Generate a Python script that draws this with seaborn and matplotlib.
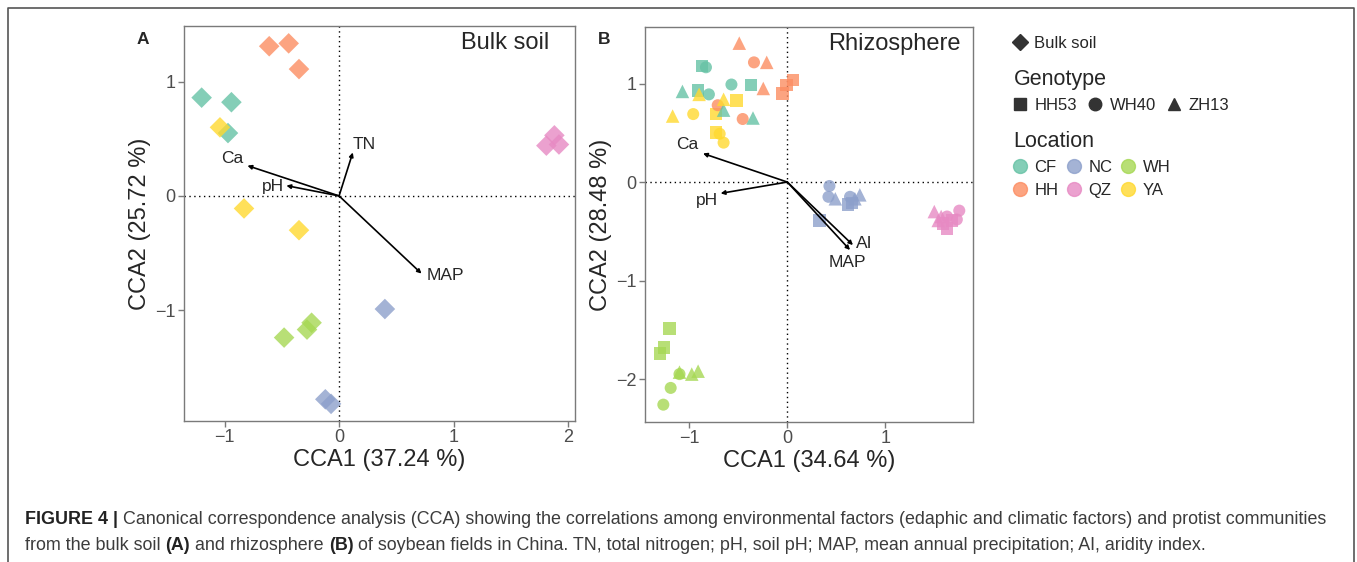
import matplotlib
matplotlib.use('Agg')
import matplotlib.pyplot as plt
from matplotlib.lines import Line2D
import seaborn as sns
import pandas as pd

# Locations and colours (Set2, ggplot order)
locations = ['CF', 'HH', 'NC', 'QZ', 'WH', 'YA']
loc_colors = ['#66C2A5', '#FC8D62', '#8DA0CB', '#E78AC3', '#A6D854', '#FFD92F']
genotypes = ['HH53', 'WH40', 'ZH13']
geno_markers = {'HH53': 's', 'WH40': 'o', 'ZH13': '^'}
geno_sizes = {'HH53': 80, 'WH40': 75, 'ZH13': 95}

# Panel A: bulk soil site scores
bulk_loc = ['HH'] * 3 + ['CF'] * 3 + ['YA'] * 3 + ['QZ'] * 3 + ['NC'] * 3 + ['WH'] * 3
bulk_x = [-0.61, -0.44, -0.35, -1.20, -0.94, -0.97, -1.04, -0.83, -0.35,
          1.88, 1.81, 1.92, 0.40, -0.12, -0.07, -0.24, -0.28, -0.48]
bulk_y = [1.31, 1.335, 1.11, 0.86, 0.82, 0.55, 0.60, -0.11, -0.30,
          0.53, 0.44, 0.45, -0.99, -1.78, -1.82, -1.11, -1.17, -1.24]

# Panel A: environmental arrows
bulk_env = ['Ca', 'pH', 'TN', 'MAP']
bulk_env_x = [-0.80, -0.46, 0.12, 0.72]
bulk_env_y = [0.265, 0.09, 0.38, -0.68]
bulk_lab_x = [-0.93, -0.58, 0.22, 0.93]
bulk_lab_y = [0.33, 0.08, 0.45, -0.70]

# Panel B: rhizosphere site scores (3 genotypes x 3 reps per location)
rhizo_loc = (['HH'] * 9 + ['CF'] * 9 + ['YA'] * 9 + ['NC'] * 9 + ['QZ'] * 9 + ['WH'] * 9)
rhizo_geno = (['HH53'] * 3 + ['WH40'] * 3 + ['ZH13'] * 3) * 6
rhizo_x = [0.06, -0.01, -0.05, -0.34, -0.71, -0.455, -0.49, -0.21, -0.245,
           -0.87, -0.37, -0.91, -0.83, -0.57, -0.80, -1.07, -0.65, -0.35,
           -0.52, -0.73, -0.73, -0.96, -0.69, -0.65, -0.90, -0.65, -1.17,
           0.33, 0.62, 0.66, 0.43, 0.42, 0.64, 0.49, 0.74, 0.69,
           1.63, 1.59, 1.68, 1.755, 1.73, 1.63, 1.50, 1.54, 1.57,
           -1.20, -1.26, -1.30, -1.10, -1.19, -1.265, -1.10, -0.975, -0.91]
rhizo_y = [1.035, 0.985, 0.90, 1.215, 0.78, 0.64, 1.41, 1.215, 0.95,
           1.18, 0.985, 0.93, 1.165, 0.99, 0.89, 0.92, 0.73, 0.65,
           0.83, 0.69, 0.505, 0.69, 0.49, 0.40, 0.89, 0.84, 0.67,
           -0.39, -0.23, -0.21, -0.04, -0.15, -0.15, -0.17, -0.13, -0.17,
           -0.47, -0.42, -0.39, -0.29, -0.38, -0.35, -0.30, -0.39, -0.35,
           -1.485, -1.68, -1.74, -1.95, -2.09, -2.26, -1.93, -1.95, -1.92]

# Panel B: environmental arrows
rhizo_env = ['Ca', 'pH', 'AI', 'MAP']
rhizo_env_x = [-0.86, -0.68, 0.67, 0.64]
rhizo_env_y = [0.29, -0.115, -0.64, -0.69]
rhizo_lab_x = [-1.02, -0.82, 0.79, 0.61]
rhizo_lab_y = [0.38, -0.19, -0.62, -0.82]

bulk = pd.DataFrame({'location': bulk_loc, 'x': bulk_x, 'y': bulk_y})
rhizo = pd.DataFrame({'location': rhizo_loc, 'genotype': rhizo_geno, 'x': rhizo_x, 'y': rhizo_y})

sns.set_theme(style='ticks')
plt.rcParams['font.family'] = ['Liberation Sans', 'DejaVu Sans']

W, H = 1357, 562
fig = plt.figure(figsize=(W / 100, H / 100), dpi=100)
ax_a = fig.add_axes([184 / W, 1 - 421 / H, 391 / W, 395 / H])
ax_b = fig.add_axes([645 / W, 1 - 421.7 / H, 328.3 / W, 394.4 / H])


def style_axes(ax, xlim, ylim, xticks, yticks):
    ax.set_xlim(*xlim)
    ax.set_ylim(*ylim)
    ax.set_xticks(xticks)
    ax.set_yticks(yticks)
    ax.axhline(0, color='black', ls=(0, (1, 2.5)), lw=1, zorder=1)
    ax.axvline(0, color='black', ls=(0, (1, 2.5)), lw=1, zorder=1)
    for sp in ax.spines.values():
        sp.set_color('#7a7a7a')
        sp.set_linewidth(1)
    ax.tick_params(colors='#7a7a7a', labelcolor='#4d4d4d', labelsize=13, length=4, width=1, pad=2)


def draw_arrows(ax, names, ex, ey, lx, ly):
    for n, x, y, tx, ty in zip(names, ex, ey, lx, ly):
        ax.annotate('', xy=(x, y), xytext=(0, 0),
                    arrowprops=dict(arrowstyle='-|>', color='black', lw=1.2,
                                    mutation_scale=6, shrinkA=0, shrinkB=0), zorder=3)
        ax.text(tx, ty, n, fontsize=12.5, ha='center', va='center', zorder=4)


# Panel A
style_axes(ax_a, (-1.354, 2.06), (-1.97, 1.487), [-1, 0, 1, 2], [-1, 0, 1])
sns.scatterplot(data=bulk, x='x', y='y', hue='location', hue_order=locations,
                palette=loc_colors, marker='D', s=110, alpha=0.8, edgecolor='none',
                legend=False, ax=ax_a, zorder=2)
ax_a.set_xlabel('CCA1 (37.24 %)', fontsize=17, labelpad=2)
ax_a.set_ylabel('CCA2 (25.72 %)', fontsize=17, labelpad=3)
draw_arrows(ax_a, bulk_env, bulk_env_x, bulk_env_y, bulk_lab_x, bulk_lab_y)
ax_a.text(0.935, 0.985, 'Bulk soil', transform=ax_a.transAxes, ha='right', va='top', fontsize=17)

# Panel B
style_axes(ax_b, (-1.452, 1.898), (-2.433, 1.571), [-1, 0, 1], [-2, -1, 0, 1])
for g in genotypes:
    sns.scatterplot(data=rhizo[rhizo['genotype'] == g], x='x', y='y', hue='location',
                    hue_order=locations, palette=loc_colors, marker=geno_markers[g],
                    s=geno_sizes[g], alpha=0.8, edgecolor='none', legend=False,
                    ax=ax_b, zorder=2)
ax_b.set_xlabel('CCA1 (34.64 %)', fontsize=17, labelpad=2)
ax_b.set_ylabel('CCA2 (28.48 %)', fontsize=17, labelpad=3)
draw_arrows(ax_b, rhizo_env, rhizo_env_x, rhizo_env_y, rhizo_lab_x, rhizo_lab_y)
ax_b.text(0.96, 0.985, 'Rhizosphere', transform=ax_b.transAxes, ha='right', va='top', fontsize=17)

# Panel letters
fig.text(143 / W, 1 - 40 / H, 'A', fontsize=12.5, weight='bold', ha='center', va='center')
fig.text(604 / W, 1 - 40 / H, 'B', fontsize=12.5, weight='bold', ha='center', va='center')

# Legends
h_bulk = [Line2D([], [], marker='D', ls='', color='#333333', markersize=8)]
fig.legend(h_bulk, ['Bulk soil'], loc='upper left', bbox_to_anchor=(1007 / W, 1 - 29 / H),
           frameon=False, fontsize=12, handlelength=0.8, handletextpad=0.4, borderaxespad=0)
h_geno = [Line2D([], [], marker=geno_markers[g], ls='', color='#333333', markersize=9)
          for g in genotypes]
fig.legend(h_geno, genotypes, title='Genotype', loc='upper left', ncol=3,
           bbox_to_anchor=(1007 / W, 1 - 62 / H), frameon=False, fontsize=12,
           title_fontsize=15.5, handlelength=0.8, handletextpad=0.45, columnspacing=0.7,
           alignment='left', borderaxespad=0)
h_loc = [Line2D([], [], marker='o', ls='', color=c, alpha=0.8, markersize=10)
         for c in loc_colors]
fig.legend(h_loc, locations, title='Location', loc='upper left', ncol=3,
           bbox_to_anchor=(1007 / W, 1 - 124 / H), frameon=False, fontsize=12,
           title_fontsize=15.5, handlelength=0.8, handletextpad=0.45, columnspacing=0.55,
           labelspacing=0.5, alignment='left', borderaxespad=0)

# Outer frame
fig.add_artist(Line2D([8 / W, 8 / W, 1354 / W, 1354 / W], [0, 1 - 8 / H, 1 - 8 / H, 0],
                      transform=fig.transFigure, color='#555555', lw=1.2))

# Caption with mixed bold text
caption = [
    [('FIGURE 4 | ', 'bold', '#222222'),
     ('Canonical correspondence analysis (CCA) showing the correlations among environmental '
      'factors (edaphic and climatic factors) and protist communities', 'normal', '#3c3c3c')],
    [('from the bulk soil ', 'normal', '#3c3c3c'), ('(A)', 'bold', '#222222'),
     (' and rhizosphere ', 'normal', '#3c3c3c'), ('(B)', 'bold', '#222222'),
     (' of soybean fields in China. TN, total nitrogen; pH, soil pH; MAP, mean annual '
      'precipitation; AI, aridity index.', 'normal', '#3c3c3c')],
]
renderer = fig.canvas.get_renderer()
for line, ypix in zip(caption, [519, 545]):
    x = 25 / W
    for s, w, c in line:
        t = fig.text(x, 1 - ypix / H, s, fontsize=12.9, weight=w, color=c, va='center', ha='left')
        bb = t.get_window_extent(renderer)
        x = bb.x1 / fig.bbox.width

fig.savefig('out.png', dpi=100)
